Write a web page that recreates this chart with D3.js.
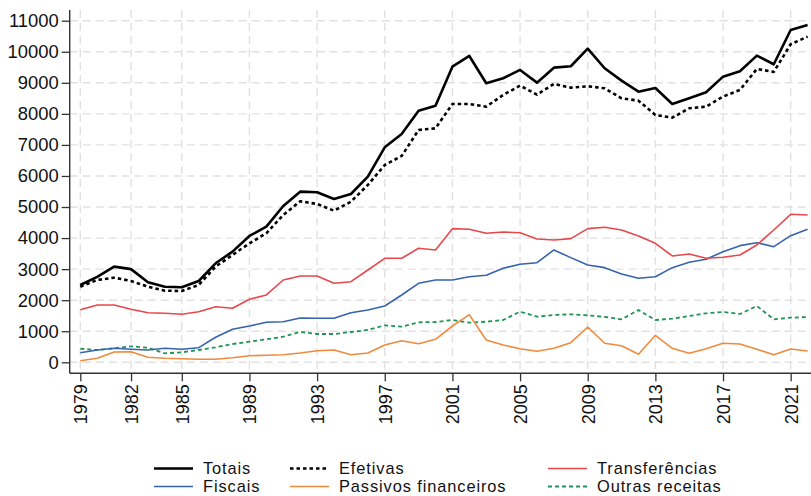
<!DOCTYPE html>
<html>
<head>
<meta charset="utf-8">
<script src="https://cdn.jsdelivr.net/npm/d3@7"></script>
<style>
  html, body { margin: 0; padding: 0; background: #fff; }
  svg { display: block; }
  text { font-family: "Liberation Sans", Arial, Helvetica, sans-serif; fill: #111; }
</style>
</head>
<body>
<svg id="chart" width="811" height="496"></svg>
<script>
const years = d3.range(1979, 2023);
const xTickYears = [1979, 1982, 1985, 1989, 1993, 1997, 2001, 2005, 2009, 2013, 2017, 2021];
const yTicks = [0, 1000, 2000, 3000, 4000, 5000, 6000, 7000, 8000, 9000, 10000, 11000];

const totais = [2490, 2750, 3080, 3000, 2580, 2435, 2415, 2618, 3188, 3563, 4068, 4367,
  5034, 5495, 5475, 5259, 5420, 5978, 6924, 7353, 8103, 8264, 9520, 9865, 8985, 9147,
  9414, 9005, 9488, 9533, 10100, 9469, 9069, 8715, 8834, 8319, 8502, 8696, 9198, 9372,
  9874, 9597, 10702, 10863];
const efetivas = [2435, 2650, 2725, 2618, 2435, 2306, 2296, 2490, 3080, 3456, 3832, 4155,
  4744, 5185, 5098, 4883, 5172, 5710, 6354, 6644, 7482, 7536, 8319, 8319, 8233, 8609,
  8909, 8620, 8963, 8844, 8888, 8824, 8502, 8425, 7965, 7878, 8180, 8233, 8555, 8770,
  9446, 9350, 10242, 10487];
const transferencias = [1695, 1845, 1845, 1707, 1598, 1578, 1546, 1630, 1791, 1739, 2029, 2168,
  2650, 2779, 2779, 2544, 2596, 2973, 3349, 3349, 3671, 3617, 4303, 4283, 4155, 4196,
  4174, 3970, 3939, 3981, 4303, 4348, 4261, 4068, 3832, 3424, 3488, 3349, 3382, 3456,
  3778, 4261, 4766, 4744];
const fiscais = [309, 396, 450, 418, 396, 450, 418, 471, 805, 1063, 1169, 1288,
  1308, 1427, 1417, 1417, 1598, 1684, 1813, 2168, 2544, 2650, 2650, 2757, 2802, 3027,
  3156, 3208, 3617, 3370, 3134, 3048, 2844, 2705, 2757, 3048, 3220, 3317, 3563, 3756,
  3852, 3723, 4077, 4283];
const passivos = [52, 129, 332, 341, 161, 129, 116, 97, 97, 148, 213, 225,
  245, 300, 374, 396, 245, 300, 557, 696, 599, 741, 1169, 1533, 718, 557,
  438, 354, 450, 631, 1137, 612, 535, 258, 870, 450, 290, 438, 612, 589,
  418, 245, 428, 364];
const outras = [438, 396, 450, 515, 471, 290, 322, 396, 483, 589, 663, 741,
  824, 980, 911, 911, 976, 1040, 1192, 1147, 1288, 1298, 1362, 1276, 1308, 1362,
  1630, 1469, 1523, 1546, 1514, 1459, 1385, 1684, 1362, 1404, 1491, 1578, 1620, 1556,
  1813, 1385, 1436, 1459];

const seriesList = [
  { name: "Totais", values: totais, color: "#000000", width: 2.6, dash: null },
  { name: "Efetivas", values: efetivas, color: "#000000", width: 2.6, dash: "3.5,3" },
  { name: "Transferências", values: transferencias, color: "#e8474c", width: 1.6, dash: null },
  { name: "Fiscais", values: fiscais, color: "#3563ad", width: 1.6, dash: null },
  { name: "Passivos financeiros", values: passivos, color: "#f08a3c", width: 1.6, dash: null },
  { name: "Outras receitas", values: outras, color: "#1f9453", width: 1.8, dash: "4,3" }
];

const svg = d3.select("#chart");
const x = d3.scaleLinear().domain([1979, 2022]).range([80.3, 807.6]);
const y = d3.scaleLinear().domain([0, 11000]).range([362.3, 20.7]);

const axisX = 69.7, axisY = 373.3, topY = 10, rightX = 811;

// gridlines
const grid = svg.append("g");
grid.selectAll("line.h").data(yTicks).enter().append("line")
  .attr("x1", axisX).attr("x2", rightX)
  .attr("y1", d => y(d)).attr("y2", d => y(d))
  .attr("stroke", "#e1e1e1").attr("stroke-width", 1.4).attr("stroke-dasharray", "8,5");
grid.selectAll("line.v").data(xTickYears).enter().append("line")
  .attr("y1", topY).attr("y2", axisY)
  .attr("x1", d => x(d)).attr("x2", d => x(d))
  .attr("stroke", "#e1e1e1").attr("stroke-width", 1.4).attr("stroke-dasharray", "8,5");

// lines
const line = d3.line().x((d, i) => x(years[i])).y(d => y(d));
seriesList.slice().reverse().forEach(s => {
  svg.append("path").datum(s.values)
    .attr("d", line)
    .attr("fill", "none")
    .attr("stroke", s.color)
    .attr("stroke-width", s.width)
    .attr("stroke-linejoin", "round")
    .attr("stroke-dasharray", s.dash);
});

// axes
const yAxis = d3.axisLeft(y).tickValues(yTicks).tickSize(8).tickPadding(3).tickFormat(d3.format("d"));
const gy = svg.append("g").attr("transform", `translate(${axisX},0)`).call(yAxis);
gy.select(".domain").remove();
gy.selectAll(".tick line").attr("stroke", "#333").attr("stroke-width", 1.3);
gy.selectAll(".tick text").attr("font-size", 18.4).attr("fill", "#111")
  .style("font-family", "'Liberation Sans', Arial, sans-serif");

const xAxis = d3.axisBottom(x).tickValues(xTickYears).tickSize(8).tickFormat(d3.format("d"));
const gx = svg.append("g").attr("transform", `translate(0,${axisY})`).call(xAxis);
gx.select(".domain").remove();
gx.selectAll(".tick line").attr("stroke", "#333").attr("stroke-width", 1.3);
gx.selectAll(".tick text")
  .attr("font-size", 18)
  .attr("fill", "#111")
  .style("font-family", "'Liberation Sans', Arial, sans-serif")
  .attr("text-anchor", "end")
  .attr("transform", "rotate(-90)")
  .attr("x", -11).attr("y", 0).attr("dy", "0.36em");

// axis lines
svg.append("line").attr("x1", axisX).attr("x2", axisX).attr("y1", topY).attr("y2", axisY)
  .attr("stroke", "#333").attr("stroke-width", 1.4);
svg.append("line").attr("x1", axisX).attr("x2", rightX).attr("y1", axisY).attr("y2", axisY)
  .attr("stroke", "#333").attr("stroke-width", 1.4);

// legend
const legendOrder = [
  { s: seriesList[0], lx: 154, ty: 468.5 },
  { s: seriesList[1], lx: 290, ty: 468.5 },
  { s: seriesList[2], lx: 548, ty: 468.5 },
  { s: seriesList[3], lx: 154, ty: 486.5 },
  { s: seriesList[4], lx: 290, ty: 486.5 },
  { s: seriesList[5], lx: 548, ty: 486.5 }
];
const lg = svg.append("g");
legendOrder.forEach(e => {
  lg.append("line")
    .attr("x1", e.lx).attr("x2", e.lx + 39)
    .attr("y1", e.ty).attr("y2", e.ty)
    .attr("stroke", e.s.color)
    .attr("stroke-width", e.s.width)
    .attr("stroke-dasharray", e.s.dash);
  lg.append("text")
    .attr("x", e.lx + 49).attr("y", e.ty).attr("dy", "0.35em")
    .attr("font-size", 16.4)
    .attr("letter-spacing", "0.9px")
    .text(e.s.name);
});
</script>
</body>
</html>
